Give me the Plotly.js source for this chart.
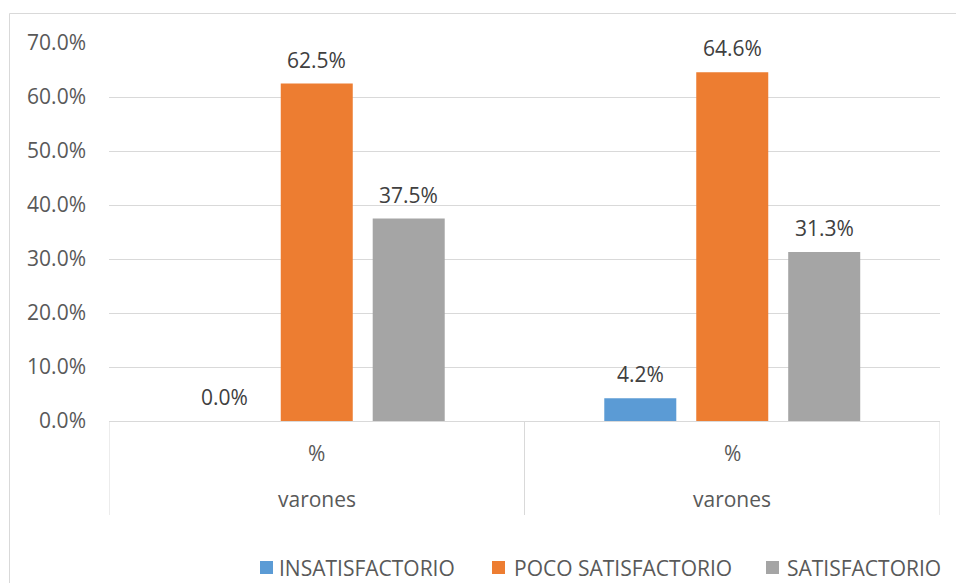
<!DOCTYPE html>
<html>
<head>
<meta charset="utf-8">
<script src="https://cdn.plot.ly/plotly-3.0.1.min.js"></script>
<style>
  html, body { margin: 0; padding: 0; background: #ffffff; }
  #chart { width: 956px; height: 583px; }
</style>
</head>
<body>
<div id="chart"></div>
<script>
// Category axis: inner label and outer label for each group
const innerLabels = ["%", "%"];
const outerLabels = ["varones", "varones"];

// Series (fractions of 1)
const seriesNames = ["INSATISFACTORIO", "POCO SATISFACTORIO", "SATISFACTORIO"];
const insatisfactorio = [0.000, 0.042];
const pocoSatisfactorio = [0.625, 0.646];
const satisfactorio = [0.375, 0.313];

const yTickVals = [0, 0.1, 0.2, 0.3, 0.4, 0.5, 0.6, 0.7];

const colors = ["#5B9BD5", "#ED7D31", "#A5A5A5"];
const seriesValues = [insatisfactorio, pocoSatisfactorio, satisfactorio];

const FONT = "Open Sans, Noto Sans, sans-serif";
const FONT_SIZE = 21;
const BARGAP = 0.336;
const BARGROUPGAP = 0.217;

// Page geometry
const W = 956, H = 583;
const M = { l: 109, r: 16, t: 43, b: 162 };
const plotW = W - M.l - M.r;
const plotH = H - M.t - M.b;
const pxX = px => (px - M.l) / plotW;        // page pixel -> paper x
const pxY = py => (H - M.b - py) / plotH;    // page pixel -> paper y

const xPos = innerLabels.map((_, i) => i);

const traces = seriesValues.map((vals, s) => ({
  type: "bar",
  name: seriesNames[s],
  x: xPos,
  y: vals,
  marker: { color: colors[s] },
  showlegend: false,
  hoverinfo: "skip"
}));

// Data labels above each bar, placed at the grouped bar centres
const nSeries = seriesValues.length;
const slot = (1 - BARGAP) / nSeries;
const annotations = [];
seriesValues.forEach((vals, s) => {
  vals.forEach((v, i) => {
    annotations.push({
      x: xPos[i] + (s - (nSeries - 1) / 2) * slot,
      y: v,
      xref: "x", yref: "y",
      text: (v * 100).toFixed(1) + "%",
      showarrow: false,
      yanchor: "middle",
      yshift: 24,
      font: { family: FONT, size: FONT_SIZE, color: "#404040" }
    });
  });
});

// Two-level category labels under the axis
xPos.forEach((x, i) => {
  annotations.push({
    x: x, y: 0, xref: "x", yref: "paper",
    text: innerLabels[i], showarrow: false,
    yanchor: "middle", yshift: -32,
    font: { family: FONT, size: FONT_SIZE, color: "#595959" }
  });
  annotations.push({
    x: x, y: 0, xref: "x", yref: "paper",
    text: outerLabels[i], showarrow: false,
    yanchor: "middle", yshift: -78,
    font: { family: FONT, size: FONT_SIZE, color: "#595959" }
  });
});

// Category dividers under the plot area
const shapes = [];
const bounds = [-0.5].concat(xPos.map(x => x + 0.5));
bounds.forEach(b => {
  shapes.push({
    type: "line", xref: "x", yref: "paper",
    x0: b, x1: b, y0: 0, y1: pxY(515),
    line: { color: "#D9D9D9", width: 1 }
  });
});

// Chart frame (left and top edges; the rest runs off the page)
shapes.push({
  type: "rect", xref: "paper", yref: "paper",
  x0: pxX(9.5), x1: pxX(W + 20), y0: pxY(H + 20), y1: pxY(13.5),
  line: { color: "#D9D9D9", width: 1 },
  fillcolor: "rgba(0,0,0,0)", layer: "below"
});

// Legend row: colour key square followed by the series name
const legendSquareLeft = [260, 492, 766];
const legendTextLeft = [277, 512, 785];
const legendMidY = 567.5;
const keySize = 13;
seriesNames.forEach((name, s) => {
  shapes.push({
    type: "rect", xref: "paper", yref: "paper",
    x0: pxX(legendSquareLeft[s]), x1: pxX(legendSquareLeft[s] + keySize),
    y0: pxY(legendMidY + keySize / 2), y1: pxY(legendMidY - keySize / 2),
    line: { width: 0 }, fillcolor: colors[s]
  });
  annotations.push({
    x: pxX(legendTextLeft[s]), y: pxY(legendMidY),
    xref: "paper", yref: "paper",
    xanchor: "left", yanchor: "middle",
    text: name, showarrow: false,
    font: { family: FONT, size: FONT_SIZE, color: "#595959" }
  });
});

const layout = {
  width: W,
  height: H,
  margin: { l: M.l, r: M.r, t: M.t, b: M.b, pad: 0, autoexpand: false },
  paper_bgcolor: "#ffffff",
  plot_bgcolor: "#ffffff",
  barmode: "group",
  bargap: BARGAP,
  bargroupgap: BARGROUPGAP,
  showlegend: false,
  xaxis: {
    range: [-0.5, 1.5],
    showticklabels: false,
    ticks: "",
    showgrid: false,
    zeroline: false,
    showline: true,
    linecolor: "#D9D9D9",
    linewidth: 1,
    fixedrange: true
  },
  yaxis: {
    range: [0, 0.7],
    tickvals: yTickVals,
    tickformat: ".1%",
    showgrid: true,
    gridcolor: "#D9D9D9",
    gridwidth: 1,
    zeroline: false,
    showline: false,
    ticks: "",
    ticklabelstandoff: 22,
    tickfont: { family: FONT, size: FONT_SIZE, color: "#595959" },
    fixedrange: true
  },
  annotations: annotations,
  shapes: shapes,
  hovermode: false
};

Plotly.newPlot("chart", traces, layout, { displayModeBar: false, staticPlot: true });
</script>
</body>
</html>
